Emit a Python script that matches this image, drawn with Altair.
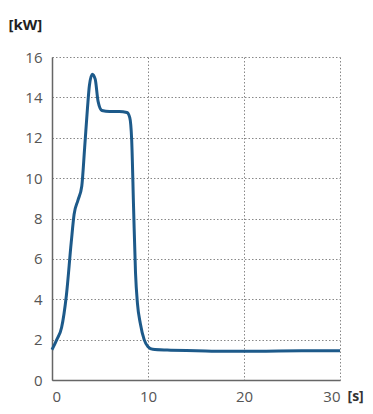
import altair as alt
import pandas as pd

t = [0, 0.5, 1.0, 1.5, 2.0, 2.3, 2.7, 3.1, 3.4, 3.7, 3.9, 4.2, 4.5, 4.8, 5.2, 6, 7, 7.8, 8.1, 8.3, 8.5, 8.7, 8.9, 9.2, 9.6, 10.0, 10.5, 12, 15, 18, 22, 26, 30]
p = [1.5, 2.0, 2.6, 4.2, 6.8, 8.2, 8.9, 9.6, 11.5, 13.5, 14.6, 15.15, 14.9, 13.8, 13.35, 13.3, 13.3, 13.25, 13.0, 11.9, 8.5, 5.3, 3.8, 2.8, 2.0, 1.65, 1.52, 1.48, 1.45, 1.42, 1.43, 1.45, 1.45]

df = pd.DataFrame({"t": t, "p": p})

chart = alt.Chart(df).mark_line(
    color="#1d5a8a", strokeWidth=3, interpolate="monotone"
).encode(
    x=alt.X("t:Q", scale=alt.Scale(domain=[0, 30], nice=False),
            axis=alt.Axis(values=[0, 10, 20, 30], title="[s]", titleAngle=0,
                          titleX=295, titleY=20, titleAlign="left", titleBaseline="alphabetic",
                          titleFontSize=14, titleFontWeight="bold", titleColor="#333",
                          titleFont="Open Sans")),
    y=alt.Y("p:Q", scale=alt.Scale(domain=[0, 16], nice=False),
            axis=alt.Axis(values=list(range(0, 17, 2)), title="[kW]", titleAngle=0,
                          titleX=-44, titleY=-40, titleAlign="left", titleBaseline="top",
                          titleFontSize=15, titleFontWeight="bold", titleColor="#222",
                          titleFont="Open Sans")),
).properties(
    width=288, height=323,
    autosize="none",
    padding={"left": 44, "top": 49, "right": 25, "bottom": 26},
).configure_view(stroke=None).configure_axis(
    domainColor="#666", domainWidth=1.5,
    grid=True, gridColor="#888", gridDash=[1.5, 2], gridWidth=1,
    ticks=False, labelFont="Open Sans", labelFontSize=15, labelColor="#555",
).configure_axisX(labelPadding=9).configure_axisY(labelPadding=10)

chart.save("out.html", embed_options={"renderer": "svg", "actions": False})
